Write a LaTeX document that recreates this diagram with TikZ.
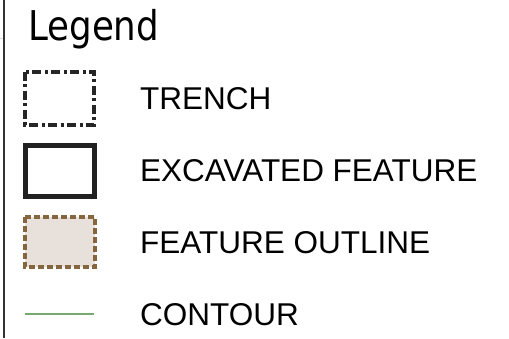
\documentclass[tikz,border=0pt]{standalone}
\usepackage{fontspec}
\setmainfont{Liberation Sans}
\newfontfamily\titlefont{DejaVu Sans}
\definecolor{framegray}{HTML}{333333}
\definecolor{trenchgray}{HTML}{262626}
\definecolor{featbrown}{HTML}{86663F}
\definecolor{featfill}{HTML}{E8E1DB}
\definecolor{contourgreen}{HTML}{78AA70}
\tikzset{
  lbl/.style={anchor=west, inner sep=0pt, font=\fontsize{31.5}{33}\selectfont},
  trenchbox/.style={draw=trenchgray, line width=4pt,
    dash pattern=on 9pt off 3.5pt on 3pt off 3.5pt},
  excbox/.style={draw=black!87, line width=5.5pt},
  outlinebox/.style={draw=featbrown, fill=featfill, line width=4pt,
    dash pattern=on 6pt off 3pt},
  contourline/.style={draw=contourgreen, line width=2.5pt}
}
\begin{document}
\begin{tikzpicture}[x=1pt,y=1pt]
  \useasboundingbox (0,0) rectangle (509,-338);
  % frame edge on the left
  \draw[framegray, line width=2.5pt] (4,0) -- (4,-338);
  \draw[black!15, line width=0.8pt] (0,-38) -- (3,-38);
  % title
  \node[anchor=base west, inner sep=0pt] (title) at (28,-40)
    {\scalebox{0.87}[1]{\titlefont\fontsize{41}{44}\selectfont Legend}};
  % symbols
  \draw[trenchbox] (25,-71.5) rectangle (94,-124.5);
  \draw[excbox] (25.5,-145.5) rectangle (94.5,-196.5);
  \draw[outlinebox] (24.5,-216.5) rectangle (94.5,-266.5);
  \draw[contourline] (25,-314) -- (94,-314);
  % labels
  \node[lbl] (trench) at (140,-98.5) {TRENCH};
  \node[lbl] (exc) at (140,-171) {EXCAVATED FEATURE};
  \node[lbl] (outline) at (140,-242.5) {FEATURE OUTLINE};
  \node[lbl] (contour) at (140,-315) {CONTOUR};
\end{tikzpicture}
\end{document}
